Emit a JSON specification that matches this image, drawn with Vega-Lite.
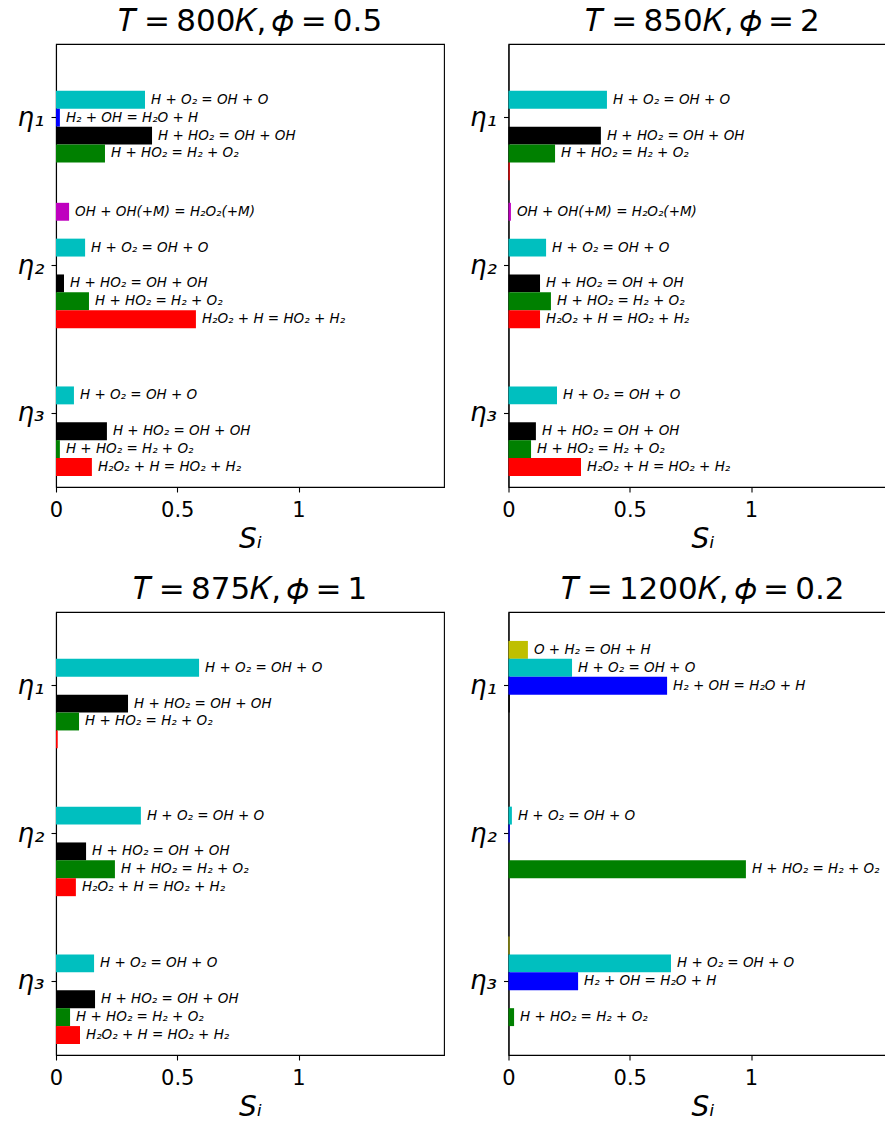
{
  "$schema": "https://vega.github.io/schema/vega-lite/v6.json",
  "background": "white",
  "padding": {"left": 16, "top": 5, "right": 0, "bottom": 0},
  "columns": 2,
  "spacing": {"column": 64.5, "row": 125},
  "bounds": "flush",
  "datasets": {
    "A": [
      {"eta": "η₁", "r": "H + O₂ = OH + O", "s": 0.367, "lbl": true},
      {"eta": "η₁", "r": "H₂ + OH = H₂O + H", "s": 0.016, "lbl": true},
      {"eta": "η₁", "r": "H + HO₂ = OH + OH", "s": 0.396, "lbl": true},
      {"eta": "η₁", "r": "H + HO₂ = H₂ + O₂", "s": 0.202, "lbl": true},
      {"eta": "η₂", "r": "OH + OH(+M) = H₂O₂(+M)", "s": 0.054, "lbl": true},
      {"eta": "η₂", "r": "H + O₂ = OH + O", "s": 0.12, "lbl": true},
      {"eta": "η₂", "r": "H + HO₂ = OH + OH", "s": 0.033, "lbl": true},
      {"eta": "η₂", "r": "H + HO₂ = H₂ + O₂", "s": 0.136, "lbl": true},
      {"eta": "η₂", "r": "H₂O₂ + H = HO₂ + H₂", "s": 0.577, "lbl": true},
      {"eta": "η₃", "r": "H + O₂ = OH + O", "s": 0.074, "lbl": true},
      {"eta": "η₃", "r": "H + HO₂ = OH + OH", "s": 0.21, "lbl": true},
      {"eta": "η₃", "r": "H + HO₂ = H₂ + O₂", "s": 0.016, "lbl": true},
      {"eta": "η₃", "r": "H₂O₂ + H = HO₂ + H₂", "s": 0.148, "lbl": true}
    ],
    "B": [
      {"eta": "η₁", "r": "H + O₂ = OH + O", "s": 0.406, "lbl": true},
      {"eta": "η₁", "r": "H + HO₂ = OH + OH", "s": 0.381, "lbl": true},
      {"eta": "η₁", "r": "H + HO₂ = H₂ + O₂", "s": 0.192, "lbl": true},
      {"eta": "η₁", "r": "H₂O₂ + H = HO₂ + H₂", "s": 0.005, "lbl": false},
      {"eta": "η₂", "r": "OH + OH(+M) = H₂O₂(+M)", "s": 0.01, "lbl": true},
      {"eta": "η₂", "r": "H + O₂ = OH + O", "s": 0.155, "lbl": true},
      {"eta": "η₂", "r": "H + HO₂ = OH + OH", "s": 0.13, "lbl": true},
      {"eta": "η₂", "r": "H + HO₂ = H₂ + O₂", "s": 0.175, "lbl": true},
      {"eta": "η₂", "r": "H₂O₂ + H = HO₂ + H₂", "s": 0.13, "lbl": true},
      {"eta": "η₃", "r": "H + O₂ = OH + O", "s": 0.2, "lbl": true},
      {"eta": "η₃", "r": "H + HO₂ = OH + OH", "s": 0.113, "lbl": true},
      {"eta": "η₃", "r": "H + HO₂ = H₂ + O₂", "s": 0.093, "lbl": true},
      {"eta": "η₃", "r": "H₂O₂ + H = HO₂ + H₂", "s": 0.299, "lbl": true}
    ],
    "C": [
      {"eta": "η₁", "r": "H + O₂ = OH + O", "s": 0.59, "lbl": true},
      {"eta": "η₁", "r": "H + HO₂ = OH + OH", "s": 0.297, "lbl": true},
      {"eta": "η₁", "r": "H + HO₂ = H₂ + O₂", "s": 0.095, "lbl": true},
      {"eta": "η₁", "r": "H₂O₂ + H = HO₂ + H₂", "s": 0.007, "lbl": false},
      {"eta": "η₂", "r": "H + O₂ = OH + O", "s": 0.35, "lbl": true},
      {"eta": "η₂", "r": "H + HO₂ = OH + OH", "s": 0.124, "lbl": true},
      {"eta": "η₂", "r": "H + HO₂ = H₂ + O₂", "s": 0.243, "lbl": true},
      {"eta": "η₂", "r": "H₂O₂ + H = HO₂ + H₂", "s": 0.082, "lbl": true},
      {"eta": "η₃", "r": "H + O₂ = OH + O", "s": 0.157, "lbl": true},
      {"eta": "η₃", "r": "H + HO₂ = OH + OH", "s": 0.161, "lbl": true},
      {"eta": "η₃", "r": "H + HO₂ = H₂ + O₂", "s": 0.058, "lbl": true},
      {"eta": "η₃", "r": "H₂O₂ + H = HO₂ + H₂", "s": 0.099, "lbl": true}
    ],
    "D": [
      {"eta": "η₁", "r": "O + H₂ = OH + H", "s": 0.08, "lbl": true},
      {"eta": "η₁", "r": "H + O₂ = OH + O", "s": 0.262, "lbl": true},
      {"eta": "η₁", "r": "H₂ + OH = H₂O + H", "s": 0.654, "lbl": true},
      {"eta": "η₁", "r": "H + HO₂ = OH + OH", "s": 0.005, "lbl": false},
      {"eta": "η₂", "r": "H + O₂ = OH + O", "s": 0.014, "lbl": true},
      {"eta": "η₂", "r": "H₂ + OH = H₂O + H", "s": 0.005, "lbl": false},
      {"eta": "η₂", "r": "H + HO₂ = H₂ + O₂", "s": 0.979, "lbl": true},
      {"eta": "η₃", "r": "O + H₂ = OH + H", "s": 0.004, "lbl": false},
      {"eta": "η₃", "r": "H + O₂ = OH + O", "s": 0.67, "lbl": true},
      {"eta": "η₃", "r": "H₂ + OH = H₂O + H", "s": 0.287, "lbl": true},
      {"eta": "η₃", "r": "H + HO₂ = H₂ + O₂", "s": 0.023, "lbl": true}
    ]
  },
  "concat": [
    {
      "title": "𝑇\u2009=\u2009800𝐾,\u2009𝜙\u2009=\u20090.5",
      "width": 388, "height": 443,
      "data": {"name": "A"},
      "encoding": {
        "x": {"field": "s", "type": "quantitative", "scale": {"domain": [0, 1.6], "nice": false}, "axis": {"values": [0, 0.5, 1], "labelExpr": "'' + datum.value", "title": "Sᵢ"}},
        "y": {"field": "eta", "type": "nominal", "scale": {"domain": ["η₁", "η₂", "η₃"], "paddingInner": 0.152, "paddingOuter": 0.0745}, "axis": {"title": null}},
        "yOffset": {"field": "r", "type": "nominal", "scale": {"domain": ["OH + OH(+M) = H₂O₂(+M)", "O + H₂ = OH + H", "H + O₂ = OH + O", "H₂ + OH = H₂O + H", "H + HO₂ = OH + OH", "H + HO₂ = H₂ + O₂", "H₂O₂ + H = HO₂ + H₂"], "paddingInner": 0, "paddingOuter": 0}}
      },
      "layer": [
        {"mark": {"type": "bar"}, "encoding": {"color": {"field": "r", "type": "nominal", "scale": {"domain": ["OH + OH(+M) = H₂O₂(+M)", "O + H₂ = OH + H", "H + O₂ = OH + O", "H₂ + OH = H₂O + H", "H + HO₂ = OH + OH", "H + HO₂ = H₂ + O₂", "H₂O₂ + H = HO₂ + H₂"], "range": ["#bf00bf", "#bfbf00", "#00bfbf", "#0000ff", "#000000", "#008000", "#ff0000"]}, "legend": null}}},
        {"transform": [{"filter": "datum.lbl"}], "mark": {"type": "text", "align": "left", "baseline": "middle", "dx": 6, "fontSize": 13.5, "fontStyle": "italic", "color": "black"}, "encoding": {"text": {"field": "r"}}}
      ]
    },
    {
      "title": "𝑇\u2009=\u2009850𝐾,\u2009𝜙\u2009=\u20092",
      "width": 388, "height": 443,
      "data": {"name": "B"},
      "encoding": {
        "x": {"field": "s", "type": "quantitative", "scale": {"domain": [0, 1.6], "nice": false}, "axis": {"values": [0, 0.5, 1], "labelExpr": "'' + datum.value", "title": "Sᵢ"}},
        "y": {"field": "eta", "type": "nominal", "scale": {"domain": ["η₁", "η₂", "η₃"], "paddingInner": 0.152, "paddingOuter": 0.0745}, "axis": {"title": null}},
        "yOffset": {"field": "r", "type": "nominal", "scale": {"domain": ["OH + OH(+M) = H₂O₂(+M)", "O + H₂ = OH + H", "H + O₂ = OH + O", "H₂ + OH = H₂O + H", "H + HO₂ = OH + OH", "H + HO₂ = H₂ + O₂", "H₂O₂ + H = HO₂ + H₂"], "paddingInner": 0, "paddingOuter": 0}}
      },
      "layer": [
        {"mark": {"type": "bar"}, "encoding": {"color": {"field": "r", "type": "nominal", "scale": {"domain": ["OH + OH(+M) = H₂O₂(+M)", "O + H₂ = OH + H", "H + O₂ = OH + O", "H₂ + OH = H₂O + H", "H + HO₂ = OH + OH", "H + HO₂ = H₂ + O₂", "H₂O₂ + H = HO₂ + H₂"], "range": ["#bf00bf", "#bfbf00", "#00bfbf", "#0000ff", "#000000", "#008000", "#ff0000"]}, "legend": null}}},
        {"transform": [{"filter": "datum.lbl"}], "mark": {"type": "text", "align": "left", "baseline": "middle", "dx": 6, "fontSize": 13.5, "fontStyle": "italic", "color": "black"}, "encoding": {"text": {"field": "r"}}}
      ]
    },
    {
      "title": "𝑇\u2009=\u2009875𝐾,\u2009𝜙\u2009=\u20091",
      "width": 388, "height": 443,
      "data": {"name": "C"},
      "encoding": {
        "x": {"field": "s", "type": "quantitative", "scale": {"domain": [0, 1.6], "nice": false}, "axis": {"values": [0, 0.5, 1], "labelExpr": "'' + datum.value", "title": "Sᵢ"}},
        "y": {"field": "eta", "type": "nominal", "scale": {"domain": ["η₁", "η₂", "η₃"], "paddingInner": 0.152, "paddingOuter": 0.0745}, "axis": {"title": null}},
        "yOffset": {"field": "r", "type": "nominal", "scale": {"domain": ["OH + OH(+M) = H₂O₂(+M)", "O + H₂ = OH + H", "H + O₂ = OH + O", "H₂ + OH = H₂O + H", "H + HO₂ = OH + OH", "H + HO₂ = H₂ + O₂", "H₂O₂ + H = HO₂ + H₂"], "paddingInner": 0, "paddingOuter": 0}}
      },
      "layer": [
        {"mark": {"type": "bar"}, "encoding": {"color": {"field": "r", "type": "nominal", "scale": {"domain": ["OH + OH(+M) = H₂O₂(+M)", "O + H₂ = OH + H", "H + O₂ = OH + O", "H₂ + OH = H₂O + H", "H + HO₂ = OH + OH", "H + HO₂ = H₂ + O₂", "H₂O₂ + H = HO₂ + H₂"], "range": ["#bf00bf", "#bfbf00", "#00bfbf", "#0000ff", "#000000", "#008000", "#ff0000"]}, "legend": null}}},
        {"transform": [{"filter": "datum.lbl"}], "mark": {"type": "text", "align": "left", "baseline": "middle", "dx": 6, "fontSize": 13.5, "fontStyle": "italic", "color": "black"}, "encoding": {"text": {"field": "r"}}}
      ]
    },
    {
      "title": "𝑇\u2009=\u20091200𝐾,\u2009𝜙\u2009=\u20090.2",
      "width": 388, "height": 443,
      "data": {"name": "D"},
      "encoding": {
        "x": {"field": "s", "type": "quantitative", "scale": {"domain": [0, 1.6], "nice": false}, "axis": {"values": [0, 0.5, 1], "labelExpr": "'' + datum.value", "title": "Sᵢ"}},
        "y": {"field": "eta", "type": "nominal", "scale": {"domain": ["η₁", "η₂", "η₃"], "paddingInner": 0.152, "paddingOuter": 0.0745}, "axis": {"title": null}},
        "yOffset": {"field": "r", "type": "nominal", "scale": {"domain": ["OH + OH(+M) = H₂O₂(+M)", "O + H₂ = OH + H", "H + O₂ = OH + O", "H₂ + OH = H₂O + H", "H + HO₂ = OH + OH", "H + HO₂ = H₂ + O₂", "H₂O₂ + H = HO₂ + H₂"], "paddingInner": 0, "paddingOuter": 0}}
      },
      "layer": [
        {"mark": {"type": "bar"}, "encoding": {"color": {"field": "r", "type": "nominal", "scale": {"domain": ["OH + OH(+M) = H₂O₂(+M)", "O + H₂ = OH + H", "H + O₂ = OH + O", "H₂ + OH = H₂O + H", "H + HO₂ = OH + OH", "H + HO₂ = H₂ + O₂", "H₂O₂ + H = HO₂ + H₂"], "range": ["#bf00bf", "#bfbf00", "#00bfbf", "#0000ff", "#000000", "#008000", "#ff0000"]}, "legend": null}}},
        {"transform": [{"filter": "datum.lbl"}], "mark": {"type": "text", "align": "left", "baseline": "middle", "dx": 6, "fontSize": 13.5, "fontStyle": "italic", "color": "black"}, "encoding": {"text": {"field": "r"}}}
      ]
    }
  ],
  "config": {
    "font": "DejaVu Sans",
    "view": {"stroke": "black", "strokeWidth": 1.1},
    "axis": {"grid": false, "domainColor": "black", "domainWidth": 1.1, "tickColor": "black", "tickWidth": 1.1, "tickSize": 5, "labelColor": "black", "titleColor": "black", "labelFont": "DejaVu Sans", "titleFont": "DejaVu Sans"},
    "axisX": {"labelFontSize": 21, "labelPadding": 7, "labelFlush": false, "titleFontSize": 28, "titleFontStyle": "italic", "titleFontWeight": "normal", "titlePadding": 5, "labelAngle": 0},
    "axisY": {"labelFontSize": 26, "labelFontStyle": "italic", "labelPadding": 7},
    "title": {"fontSize": 31, "fontWeight": "normal", "color": "black", "font": "DejaVu Sans", "offset": 6, "anchor": "middle"}
  }
}
